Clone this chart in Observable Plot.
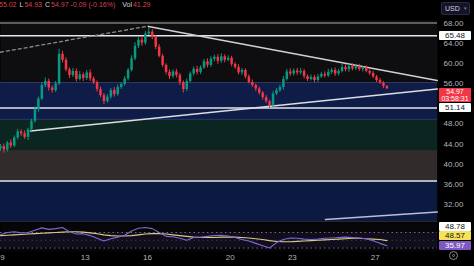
<!DOCTYPE html>
<html><head><meta charset="utf-8">
<script src="https://cdn.jsdelivr.net/npm/d3@7"></script>
<script src="https://cdn.jsdelivr.net/npm/@observablehq/plot@0.6"></script>
<style>
html,body{margin:0;padding:0;background:#000;}
body{width:474px;height:266px;overflow:hidden;position:relative;font-family:"Liberation Sans",Arial,sans-serif;}
#hdr{height:20px;position:relative;font-size:7px;line-height:10px;white-space:nowrap;padding-left:0;margin-left:-1px;}
#hdr span{display:inline-block;}
#main,#rsi{display:block;line-height:0;}
.tag{position:absolute;left:439px;width:32px;font-size:8px;text-align:center;line-height:9px;height:9px;border-radius:1px;}
</style></head><body>
<div id="hdr"></div>
<div id="main"></div>
<div id="rsi"></div>
<script>
// ---- data ----
const firstOpen = 43.0;
const closes = [43.5,42.8,44.2,43.6,45.2,46.4,46.0,45.3,46.8,48.5,
50.8,52.9,55.6,56.4,55.1,54.6,55.9,61.8,60.6,58.7,
57.6,58.4,56.8,57.7,57.0,58.1,56.9,56.2,54.8,53.6,
52.4,53.3,54.6,53.8,55.2,55.8,56.9,58.6,60.9,63.4,
64.6,64.0,65.8,66.2,65.1,63.2,61.4,59.6,58.2,57.4,
58.3,57.6,56.2,54.8,56.4,57.9,58.8,58.2,59.1,60.3,
59.6,60.8,61.2,60.4,61.3,60.6,61.0,59.8,59.2,58.1,
58.6,57.3,56.2,55.6,54.9,54.1,53.2,52.4,51.6,53.9,
54.6,55.2,56.8,58.3,57.9,58.5,58.1,58.4,57.4,56.8,
57.2,56.6,57.3,57.8,57.5,58.2,58.6,57.9,58.4,59.2,
58.7,59.4,58.9,59.3,58.8,59.1,58.4,58.0,57.3,56.6,
56.1,55.4,54.97];
const upperWick = [0.4,0.5,0.3,0.6,0.4,0.5,0.4,0.6,0.3,0.4,
0.5,0.4,0.6,0.7,0.5,0.4,0.5,1.0,0.6,0.5,
0.4,0.6,0.5,0.7,0.4,0.5,0.6,0.4,0.3,0.5,
0.4,0.5,0.4,0.6,0.5,0.4,0.5,0.4,0.6,0.7,
0.5,0.6,0.5,0.8,0.5,0.4,0.5,0.4,0.3,0.5,
0.4,0.5,0.4,0.3,0.5,0.4,0.5,0.6,0.4,0.5,
0.6,0.5,0.4,0.5,0.6,0.4,0.5,0.4,0.3,0.5,
0.4,0.3,0.4,0.5,0.3,0.4,0.3,0.4,0.3,0.5,
0.4,0.5,0.6,0.5,0.6,0.4,0.5,0.6,0.4,0.3,
0.5,0.4,0.5,0.4,0.5,0.6,0.4,0.5,0.4,0.6,
0.5,0.4,0.5,0.4,0.5,0.3,0.4,0.3,0.4,0.3,
0.4,0.3,0.2];
const lowerWick = [0.5,0.6,0.4,0.5,0.3,0.4,0.5,0.4,0.6,0.3,
0.4,0.5,0.3,0.4,0.6,0.5,0.4,0.3,0.5,0.4,
0.6,0.4,0.5,0.3,0.6,0.4,0.5,0.4,0.5,0.4,
0.6,0.3,0.4,0.5,0.3,0.4,0.3,0.4,0.3,0.4,
0.5,0.6,0.4,0.3,0.4,0.5,0.3,0.4,0.5,0.6,
0.4,0.5,0.6,0.7,0.4,0.3,0.4,0.5,0.4,0.3,
0.5,0.4,0.5,0.6,0.4,0.5,0.3,0.5,0.4,0.4,
0.5,0.4,0.3,0.4,0.5,0.4,0.5,0.4,0.6,0.4,
0.3,0.4,0.5,0.3,0.5,0.4,0.5,0.4,0.5,0.4,
0.3,0.5,0.4,0.3,0.4,0.3,0.4,0.5,0.4,0.3,
0.4,0.5,0.4,0.3,0.4,0.5,0.3,0.4,0.3,0.4,
0.3,0.4,0.2];
const firstDay = 8.9;          // time of first candle (day of month)
const candlesPerDay = 6;       // 4h candles
const rsiValues = [64,70,72,69,70,76,82,78,80,83,72,66,67,62,55,48,54,58,63,74,81,83,80,70,60,59,55,50,57,58,60,62,63,61,57,52,48,42,36,30,44,52,56,55,53,52,53,55,56,57,58,57,56,54,49,42,36];
const rsiMA = [62,63,64,65,66,67,68,69,70,71,72,72,71,69,67,64,62,61,61,62,64,66,67,67,66,64,62,60,58,57,57,57,58,58,58,57,56,54,52,49,47,46,46,47,48,49,50,51,52,53,54,55,55,54,53,52,49];
const rsiStep = 2; // one RSI sample every 2 candles
const dayTicks = [9,13,16,20,23,27];
const dayLabels = ["9","13","16","20","23","27"];
const priceTicks = [68,64,60,56,48,44,40,36,32];
const levelGray = [68.0];
const levelWhite = [65.48,51.14,36.65];
const zoneTop = [56.2,48.66,42.7,36.65];
const zoneBottom = [48.66,42.7,36.65,28.6];
const zoneEdges = [56.2,48.9];
const trendDashed = [[8.9,62.2],[16.05,67.4]];
const trendUpper = [[16.05,67.3],[30.0,56.6]];
const trendLower = [[10.35,46.6],[30.0,54.9]];
const trendBottom = [[24.6,29.0],[30.0,30.5]];
const rsiBand = [30,70];
const lastPrice = 54.97, countdown = "03:58:31";
const rsiTags = [48.78,48.57,35.97];
const header = {h:"55.02", l:"54.93", c:"54.97", chg:"-0.09 (-0.16%)", vol:"41.29"};

// ---- build ----
const xDomain = [8.903, 30.01];
const yDomain = [28.62, 68.5];
const GREEN = "#089981", RED = "#f23645";
const candles = closes.map((c,i)=>{
  const o = i ? closes[i-1] : firstOpen;
  return {t: firstDay + i/candlesPerDay, o, c, h: Math.max(o,c)+upperWick[i], l: Math.min(o,c)-lowerWick[i], col: c>=o?GREEN:RED};
});
const rsiData = rsiValues.map((v,k)=>({t:firstDay + k*rsiStep/candlesPerDay, v, m: rsiMA[k]}));
const zoneFill = ["#0f1c47","#0b2520","#322b2b","#0c1940"];
const zones = zoneTop.map((t,i)=>({hi:t, lo:zoneBottom[i], f:zoneFill[i]}));
const P = a => a.map(d=>({t:d[0], p:d[1]}));

const main = Plot.plot({
  width:474, height:201, marginLeft:0, marginRight:37, marginTop:0, marginBottom:0,
  style:{background:"#000", color:"#b2b5be", fontSize:"8px", fontFamily:"Liberation Sans, Arial, sans-serif"},
  x:{domain:xDomain, axis:null},
  y:{domain:yDomain, axis:"right", ticks:priceTicks, tickFormat:d=>d.toFixed(2), tickSize:0, tickPadding:6, label:null},
  color:{type:"identity"},
  marks:[
    Plot.frame({fill:"#0e0e10", stroke:null}),
    Plot.rect(zones,{y1:"lo", y2:"hi", fill:"f"}),
    Plot.ruleY(zoneEdges,{stroke:"#2c3a68", strokeWidth:1}),
    Plot.ruleY(levelGray,{stroke:"#807476", strokeWidth:1.5}),
    Plot.ruleY(levelWhite,{stroke:"#e6e6ea", strokeWidth:1.5}),
    Plot.line(P(trendDashed),{x:"t", y:"p", stroke:"#8c8c90", strokeWidth:1.3, strokeDasharray:"3,3"}),
    Plot.line(P(trendUpper),{x:"t", y:"p", stroke:"#cfd0d6", strokeWidth:1.5}),
    Plot.line(P(trendLower),{x:"t", y:"p", stroke:"#dcdde2", strokeWidth:1.5}),
    Plot.line(P(trendBottom),{x:"t", y:"p", stroke:"#b9bdd8", strokeWidth:1.5}),
    Plot.ruleX(candles,{x:"t", y1:"l", y2:"h", stroke:"col", strokeWidth:1}),
    Plot.ruleX(candles,{x:"t", y1:"o", y2:"c", stroke:"col", strokeWidth:2.5})
  ]
});
document.getElementById("main").appendChild(main);

const rsiPlot = Plot.plot({
  width:474, height:45, marginLeft:0, marginRight:37, marginTop:0, marginBottom:15,
  style:{background:"#000", color:"#b2b5be", fontSize:"8px", fontFamily:"Liberation Sans, Arial, sans-serif"},
  x:{domain:xDomain, ticks:dayTicks, tickFormat:d=>dayLabels[dayTicks.indexOf(d)], tickSize:0, tickPadding:3, label:null},
  y:{domain:[21,98.4], axis:null},
  marks:[
    Plot.frame({fill:"#060508", stroke:null}),
    Plot.rect([rsiBand],{y1:d=>d[0], y2:d=>d[1], fill:"#110d1d"}),
    Plot.ruleY(rsiBand,{stroke:"#6e6a80", strokeWidth:1, strokeDasharray:"1.5,3"}),
    Plot.ruleY([50],{stroke:"#3a3650", strokeWidth:1, strokeDasharray:"1.5,3"}),
    Plot.line(rsiData,{x:"t", y:"m", stroke:"#d6cd84", strokeWidth:1.1}),
    Plot.line(rsiData,{x:"t", y:"v", stroke:"#7e6bd0", strokeWidth:1.1})
  ]
});
document.getElementById("rsi").appendChild(rsiPlot);

// separator
const sep = document.createElement("div");
sep.style.cssText = "position:absolute;left:0;top:221px;width:437px;height:1px;background:#26262c";
document.body.appendChild(sep);

// header (flowing text so pieces never collide)
const hdr = document.getElementById("hdr");
const H = (txt,color,gap)=>{const s=document.createElement("span");s.textContent=txt;s.style.color=color;s.style.marginLeft=gap+"px";hdr.appendChild(s);};
H(header.h,"#d8424e",0); H("L","#d1d4dc",3); H(header.l,"#d8424e",1);
H("C","#d1d4dc",3); H(header.c+" "+header.chg,"#d8424e",1);
H("Vol","#d1d4dc",7); H(header.vol,"#d8424e",1);
const usd = document.createElement("div");
usd.style.cssText="position:absolute;left:441px;top:2px;width:29px;height:13px;background:#13132a;border:1px solid #2a2a44;border-radius:2px;color:#d1d4dc;font-size:7px;line-height:11px;padding-left:3px;box-sizing:border-box";
usd.innerHTML="USD<span style='position:absolute;right:2px;font-size:5px;color:#888'>&#9662;</span>";
document.body.appendChild(usd);

// price tags
const ys = main.scale("y");
const tag = (txt, yPage, bg, fg, h)=>{
  const d=document.createElement("div");d.className="tag";d.innerHTML=txt;
  d.style.top=(yPage - (h||9)/2)+"px";d.style.background=bg;d.style.color=fg;
  if(h){d.style.height=h+"px";}
  document.body.appendChild(d);return d;
};
tag(levelWhite[0].toFixed(2), 20+ys.apply(levelWhite[0]), "#ffffff", "#131722");
tag(levelWhite[1].toFixed(2), 20+ys.apply(levelWhite[1]), "#ffffff", "#131722");
const red = tag(lastPrice.toFixed(2)+"<br>"+countdown, 20+ys.apply(lastPrice)+7, RED, "#ffffff", 14);
red.style.lineHeight="7px"; red.style.fontSize="7px";

// RSI tags
const rs = rsiPlot.scale("y");
const purpleY = 221 + rs.apply(rsiTags[2]);
tag(rsiTags[2].toFixed(2), purpleY, "#7e57c2", "#ffffff");
tag(rsiTags[1].toFixed(2), purpleY-9.5, "#f5e25a", "#131722");
tag(rsiTags[0].toFixed(2), purpleY-19, "#ffffff", "#131722");

// gear icon
const g=document.createElement("div");
g.style.cssText="position:absolute;left:449px;top:251px;width:9px;height:9px;border:1px solid #8a8a90;border-radius:50%;box-sizing:border-box";
const gi=document.createElement("div");
gi.style.cssText="position:absolute;left:2px;top:2px;width:3px;height:3px;border:1px solid #8a8a90;border-radius:50%;box-sizing:border-box";
g.appendChild(gi);document.body.appendChild(g);
</script>
</body></html>
